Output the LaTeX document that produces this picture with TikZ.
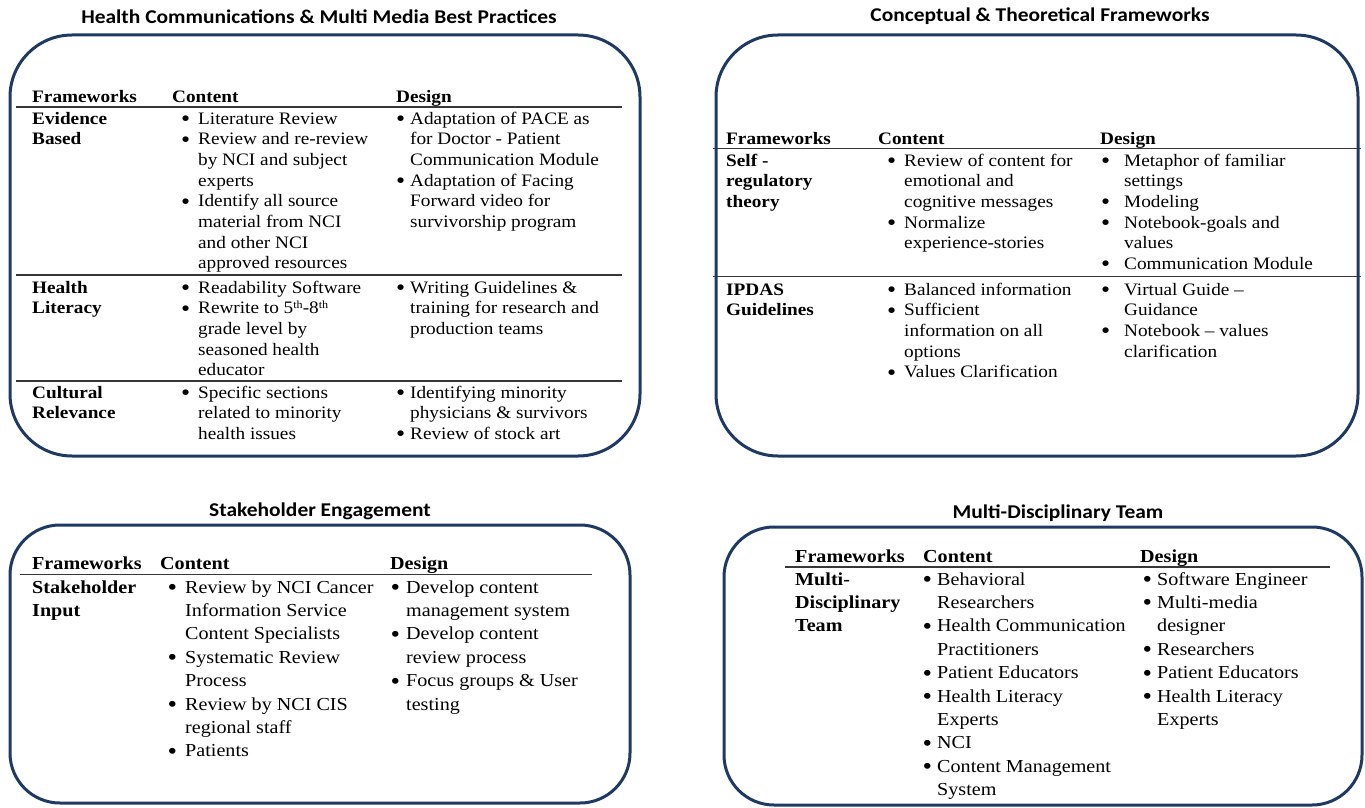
\documentclass[tikz,border=0pt]{standalone}
\usepackage{graphicx}
\usepackage{fontspec}
\setmainfont{Liberation Serif}[FakeStretch=1.1]
\newfontfamily\titlefont{Carlito}[FakeStretch=1.1]
\definecolor{boxblue}{RGB}{31,57,98}
\definecolor{rulegray}{RGB}{55,55,55}
\newcommand{\bu}[1]{\leavevmode\llap{\raisebox{-0.3ex}{\scalebox{1.35}{\textbullet}}\hspace{#1}}}
\newcommand{\cellbox}[1]{\begin{tabular}[t]{@{}l@{}}#1\end{tabular}}
\newcommand{\supx}[1]{\raisebox{0.6ex}{\fontsize{11}{11}\selectfont #1}}
\tikzset{
  panel/.style={draw=boxblue, line width=3pt, rounded corners=#1},
  ttl/.style={font=\titlefont\bfseries\fontsize{19.5}{22}\selectfont, anchor=base, inner sep=0},
  cellT/.style={font=\fontsize{17.5}{20.7}\selectfont, anchor=base west, inner sep=0},
  cellB/.style={font=\fontsize{18.3}{23.4}\selectfont, anchor=base west, inner sep=0},
  hrule/.style={draw=rulegray, line width=1.4pt}
}
\begin{document}
\begin{tikzpicture}[x=1pt,y=-1pt]
\useasboundingbox (0,0) rectangle (1365,808);
% ---------------- Panel 1
\node[ttl] (t1) at (319,24) {Health Communications \& Multi Media Best Practices};
\draw[panel=62] (10,35) rectangle (640,456);
\node[cellT] (p1f) at (32,102) {\textbf{Frameworks}};
\node[cellT] (p1c) at (172,102) {\textbf{Content}};
\node[cellT] (p1d) at (396,102) {\textbf{Design}};
\draw[hrule] (16,107) -- (622,107);
\node[cellT] (p1af) at (32,124) {\cellbox{\textbf{Evidence}\\\textbf{Based}}};
\node[cellT] (p1ac) at (198,124) {\cellbox{\bu{8pt}Literature Review\\\bu{8pt}Review and re-review\\by NCI and subject\\experts\\\bu{8pt}Identify all source\\material from NCI\\and other NCI\\approved resources}};
\node[cellT] (p1ad) at (410,124) {\cellbox{\bu{5pt}Adaptation of PACE as\\for Doctor - Patient\\Communication Module\\\bu{5pt}Adaptation of Facing\\Forward video for\\survivorship program}};
\draw[hrule] (16,275) -- (622,275);
\node[cellT] (p1bf) at (32,293) {\cellbox{\textbf{Health}\\\textbf{Literacy}}};
\node[cellT] (p1bc) at (198,293) {\cellbox{\bu{8pt}Readability Software\\\bu{8pt}Rewrite to 5\supx{th}-8\supx{th}\\grade level by\\seasoned health\\educator}};
\node[cellT] (p1bd) at (410,293) {\cellbox{\bu{5pt}Writing Guidelines \&\\training for research and\\production teams}};
\draw[hrule] (16,381) -- (622,381);
\node[cellT] (p1cf) at (32,398) {\cellbox{\textbf{Cultural}\\\textbf{Relevance}}};
\node[cellT] (p1cc) at (198,398) {\cellbox{\bu{8pt}Specific sections\\related to minority\\health issues}};
\node[cellT] (p1cd) at (410,398) {\cellbox{\bu{5pt}Identifying minority\\physicians \& survivors\\\bu{5pt}Review of stock art}};
% ---------------- Panel 2
\node[ttl] (t2) at (1040,22) {Conceptual \& Theoretical Frameworks};
\draw[panel=62] (716,35) rectangle (1358,456);
\node[cellT] (p2f) at (726,144) {\textbf{Frameworks}};
\node[cellT] (p2c) at (878,144) {\textbf{Content}};
\node[cellT] (p2d) at (1100,144) {\textbf{Design}};
\draw[hrule] (713,148.5) -- (1361,148.5);
\node[cellT] (p2af) at (726,166) {\cellbox{\textbf{Self -}\\\textbf{regulatory}\\\textbf{theory}}};
\node[cellT] (p2ac) at (904,166) {\cellbox{\bu{8pt}Review of content for\\emotional and\\cognitive messages\\\bu{8pt}Normalize\\experience-stories}};
\node[cellT] (p2ad) at (1124,166) {\cellbox{\bu{14pt}Metaphor of familiar\\settings\\\bu{14pt}Modeling\\\bu{14pt}Notebook-goals and\\values\\\bu{14pt}Communication Module}};
\draw[hrule] (713,276.5) -- (1361,276.5);
\node[cellT] (p2bf) at (726,295) {\cellbox{\textbf{IPDAS}\\\textbf{Guidelines}}};
\node[cellT] (p2bc) at (904,295) {\cellbox{\bu{8pt}Balanced information\\\bu{8pt}Sufficient\\information on all\\options\\\bu{8pt}Values Clarification}};
\node[cellT] (p2bd) at (1124,295) {\cellbox{\bu{14pt}Virtual Guide \textendash\\Guidance\\\bu{14pt}Notebook \textendash{} values\\clarification}};
% ---------------- Panel 3
\node[ttl] (t3) at (320,516) {Stakeholder Engagement};
\draw[panel=50] (10,525) rectangle (630,803);
\node[cellB] (p3f) at (32,569) {\textbf{Frameworks}};
\node[cellB] (p3c) at (160,569) {\textbf{Content}};
\node[cellB] (p3d) at (390,569) {\textbf{Design}};
\draw[hrule] (20,574.5) -- (592,574.5);
\node[cellB] (p3af) at (32,593) {\cellbox{\textbf{Stakeholder}\\\textbf{Input}}};
\node[cellB] (p3ac) at (185,593) {\cellbox{\bu{8pt}Review by NCI Cancer\\Information Service\\Content Specialists\\\bu{8pt}Systematic Review\\Process\\\bu{8pt}Review by NCI CIS\\regional staff\\\bu{8pt}Patients}};
\node[cellB] (p3ad) at (406,593) {\cellbox{\bu{6pt}Develop content\\management system\\\bu{6pt}Develop content\\review process\\\bu{6pt}Focus groups \& User\\testing}};
% ---------------- Panel 4
\node[ttl] (t4) at (1058,518) {Multi-Disciplinary Team};
\draw[panel=50] (724,527) rectangle (1362,805);
\node[cellB] (p4f) at (795,562) {\textbf{Frameworks}};
\node[cellB] (p4c) at (923,562) {\textbf{Content}};
\node[cellB] (p4d) at (1140,562) {\textbf{Design}};
\draw[hrule] (785,567) -- (1330,567);
\node[cellB] (p4af) at (795,585) {\cellbox{\textbf{Multi-}\\\textbf{Disciplinary}\\\textbf{Team}}};
\node[cellB] (p4ac) at (937,585) {\cellbox{\bu{5pt}Behavioral\\Researchers\\\bu{5pt}Health Communication\\Practitioners\\\bu{5pt}Patient Educators\\\bu{5pt}Health Literacy\\Experts\\\bu{5pt}NCI\\\bu{5pt}Content Management\\System}};
\node[cellB] (p4ad) at (1157,585) {\cellbox{\bu{5pt}Software Engineer\\\bu{5pt}Multi-media\\designer\\\bu{5pt}Researchers\\\bu{5pt}Patient Educators\\\bu{5pt}Health Literacy\\Experts}};
\end{tikzpicture}
\end{document}
